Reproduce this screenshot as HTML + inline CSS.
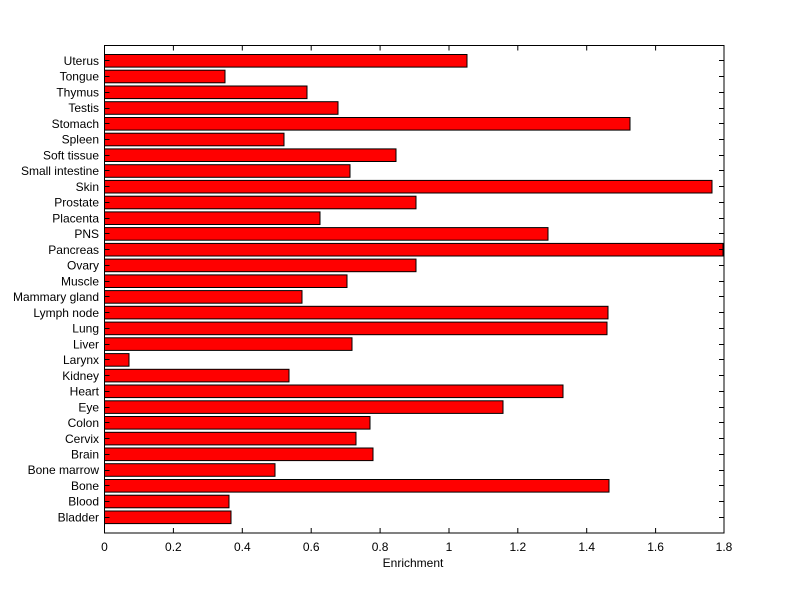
<!DOCTYPE html>
<html><head><meta charset="utf-8"><style>body{margin:0;background:#fff}svg{display:block}text{font-family:"Liberation Sans",Arial,sans-serif;font-size:12px;fill:#000}</style></head>
<body>
<svg width="800" height="599" viewBox="0 0 800 599" xmlns="http://www.w3.org/2000/svg">
<rect width="800" height="599" fill="#fff"/>
<g fill="#ff0000" stroke="#000" stroke-width="1">
<rect x="104.5" y="511.0" width="126.5" height="12.6"/>
<rect x="104.5" y="495.2" width="124.5" height="12.6"/>
<rect x="104.5" y="479.5" width="504.5" height="12.6"/>
<rect x="104.5" y="463.7" width="170.5" height="12.6"/>
<rect x="104.5" y="448.0" width="268.5" height="12.6"/>
<rect x="104.5" y="432.3" width="251.5" height="12.6"/>
<rect x="104.5" y="416.5" width="265.5" height="12.6"/>
<rect x="104.5" y="400.8" width="398.5" height="12.6"/>
<rect x="104.5" y="385.0" width="458.5" height="12.6"/>
<rect x="104.5" y="369.3" width="184.5" height="12.6"/>
<rect x="104.5" y="353.6" width="24.5" height="12.6"/>
<rect x="104.5" y="337.8" width="247.5" height="12.6"/>
<rect x="104.5" y="322.1" width="502.5" height="12.6"/>
<rect x="104.5" y="306.3" width="503.5" height="12.6"/>
<rect x="104.5" y="290.6" width="197.5" height="12.6"/>
<rect x="104.5" y="274.9" width="242.5" height="12.6"/>
<rect x="104.5" y="259.1" width="311.5" height="12.6"/>
<rect x="104.5" y="243.4" width="618.5" height="12.6"/>
<rect x="104.5" y="227.6" width="443.5" height="12.6"/>
<rect x="104.5" y="211.9" width="215.5" height="12.6"/>
<rect x="104.5" y="196.2" width="311.5" height="12.6"/>
<rect x="104.5" y="180.4" width="607.5" height="12.6"/>
<rect x="104.5" y="164.7" width="245.5" height="12.6"/>
<rect x="104.5" y="148.9" width="291.5" height="12.6"/>
<rect x="104.5" y="133.2" width="179.5" height="12.6"/>
<rect x="104.5" y="117.5" width="525.5" height="12.6"/>
<rect x="104.5" y="101.7" width="233.5" height="12.6"/>
<rect x="104.5" y="86.0" width="202.5" height="12.6"/>
<rect x="104.5" y="70.2" width="120.5" height="12.6"/>
<rect x="104.5" y="54.5" width="362.5" height="12.6"/>
</g>
<rect x="104.5" y="45.5" width="619.5" height="487.5" fill="none" stroke="#000" stroke-width="1"/>
<g stroke="#000" stroke-width="1">
<path d="M173.4 533v-5M242.3 533v-5M311.2 533v-5M380.1 533v-5M449 533v-5M517.8 533v-5M586.7 533v-5M655.6 533v-5"/>
<path d="M173.4 45.5v5M242.3 45.5v5M311.2 45.5v5M380.1 45.5v5M449 45.5v5M517.8 45.5v5M586.7 45.5v5M655.6 45.5v5"/>
<path d="M104.5 517.5h5M104.5 501.5h5M104.5 485.5h5M104.5 470.5h5M104.5 454.5h5M104.5 438.5h5M104.5 422.5h5M104.5 407.5h5M104.5 391.5h5M104.5 375.5h5M104.5 359.5h5M104.5 344.5h5M104.5 328.5h5M104.5 312.5h5M104.5 296.5h5M104.5 281.5h5M104.5 265.5h5M104.5 249.5h5M104.5 233.5h5M104.5 218.5h5M104.5 202.5h5M104.5 186.5h5M104.5 170.5h5M104.5 155.5h5M104.5 139.5h5M104.5 123.5h5M104.5 108.5h5M104.5 92.5h5M104.5 76.5h5M104.5 60.5h5"/>
<path d="M724 517.5h-5M724 501.5h-5M724 485.5h-5M724 470.5h-5M724 454.5h-5M724 438.5h-5M724 422.5h-5M724 407.5h-5M724 391.5h-5M724 375.5h-5M724 359.5h-5M724 344.5h-5M724 328.5h-5M724 312.5h-5M724 296.5h-5M724 281.5h-5M724 265.5h-5M724 249.5h-5M724 233.5h-5M724 218.5h-5M724 202.5h-5M724 186.5h-5M724 170.5h-5M724 155.5h-5M724 139.5h-5M724 123.5h-5M724 108.5h-5M724 92.5h-5M724 76.5h-5M724 60.5h-5"/>
</g>
<g text-anchor="end">
<text x="99" y="521.5">Bladder</text>
<text x="99" y="505.7">Blood</text>
<text x="99" y="490">Bone</text>
<text x="99" y="474.2">Bone marrow</text>
<text x="99" y="458.5">Brain</text>
<text x="99" y="442.8">Cervix</text>
<text x="99" y="427">Colon</text>
<text x="99" y="411.3">Eye</text>
<text x="99" y="395.5">Heart</text>
<text x="99" y="379.8">Kidney</text>
<text x="99" y="364.1">Larynx</text>
<text x="99" y="348.3">Liver</text>
<text x="99" y="332.6">Lung</text>
<text x="99" y="316.8">Lymph node</text>
<text x="99" y="301.1">Mammary gland</text>
<text x="99" y="285.4">Muscle</text>
<text x="99" y="269.6">Ovary</text>
<text x="99" y="253.9">Pancreas</text>
<text x="99" y="238.1">PNS</text>
<text x="99" y="222.4">Placenta</text>
<text x="99" y="206.7">Prostate</text>
<text x="99" y="190.9">Skin</text>
<text x="99" y="175.2">Small intestine</text>
<text x="99" y="159.4">Soft tissue</text>
<text x="99" y="143.7">Spleen</text>
<text x="99" y="128">Stomach</text>
<text x="99" y="112.2">Testis</text>
<text x="99" y="96.5">Thymus</text>
<text x="99" y="80.7">Tongue</text>
<text x="99" y="65">Uterus</text>
</g>
<g text-anchor="middle">
<text x="104.5" y="551">0</text>
<text x="173.4" y="551">0.2</text>
<text x="242.3" y="551">0.4</text>
<text x="311.2" y="551">0.6</text>
<text x="380.1" y="551">0.8</text>
<text x="449" y="551">1</text>
<text x="517.8" y="551">1.2</text>
<text x="586.7" y="551">1.4</text>
<text x="655.6" y="551">1.6</text>
<text x="724" y="551">1.8</text>
<text x="413" y="567">Enrichment</text>
</g>
</svg>
</body></html>
